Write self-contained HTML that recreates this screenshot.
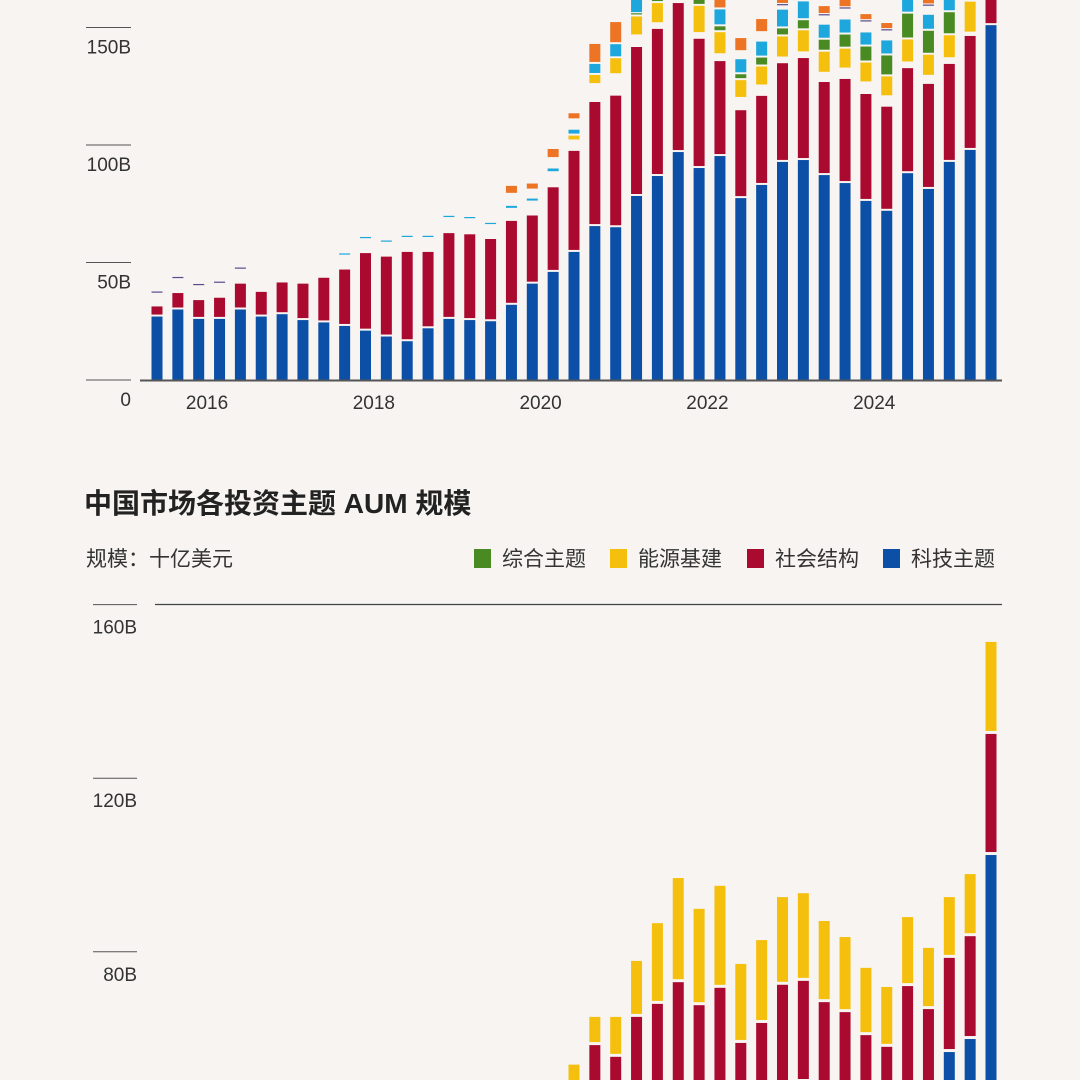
<!DOCTYPE html>
<html><head><meta charset="utf-8"><style>
html,body{margin:0;padding:0;background:#f7f4f1;width:1080px;height:1080px;overflow:hidden;}
svg{display:block;}
text{font-family:"Liberation Sans Narrow","Liberation Sans","Noto Sans CJK SC",sans-serif;fill:#333;}
.cjk{font-family:"Liberation Sans","Noto Sans CJK SC",sans-serif;}
</style></head><body>
<svg id="chart" width="1080" height="1080" viewBox="0 0 1080 1080" xmlns="http://www.w3.org/2000/svg">
<rect x="0" y="0" width="1080" height="1080" fill="#f7f4f1"/>
<g id="top"></g>
<g id="bottom"></g>
<text class="cjk" x="84" y="513" font-size="28" font-weight="bold" style="fill:#222">中国市场各投资主题 AUM 规模</text>
<text class="cjk" x="86" y="566" font-size="21">规模：十亿美元</text>
<g>
<g><rect x="474" y="549" width="17" height="19" fill="#4a8a22"/><text class="cjk" x="502" y="566" font-size="21">综合主题</text></g>
<g><rect x="610" y="549" width="17" height="19" fill="#f5bf0e"/><text class="cjk" x="638" y="566" font-size="21">能源基建</text></g>
<g><rect x="747" y="549" width="17" height="19" fill="#ab0a30"/><text class="cjk" x="775" y="566" font-size="21">社会结构</text></g>
<g><rect x="883" y="549" width="17" height="19" fill="#0c4fa6"/><text class="cjk" x="911" y="566" font-size="21">科技主题</text></g>
</g>
</svg>
<script>
// ---------- TOP CHART DATA (billions USD, quarterly) ----------
const topBlue   = [27,30,26,26,30,27,28,25.5,24.5,23,21,18.5,16.5,22,26,25.5,25,32,41,46,54.5,65.5,65,78.3,86.8,97,90.2,95.3,77.4,83,92.8,93.6,87.2,83.8,76.2,72,88,81.3,92.8,97.9,151];
const topRed    = [4.3,7,8,9,11,10.5,13.5,15.5,19,24,33,34,38,32.5,36.5,36.5,35,35.7,29,36,43,52.8,56,63.4,62.6,63.4,55,40.4,37.4,37.9,42,43.4,39.6,44.3,45.5,44.3,44.7,44.7,41.7,48.5,30];
const topGap1   = [5,5.5,5.5,5.5,5.5,0,0,0,0,5.5,5.5,5.5,5.5,5.5,6,6,5.5,4.7,5.5,6,4,7.2,8.7,4.5,2,2,2,2.5,4.8,4,2,2,3.5,4,4.5,4,2,3,2,1,0];
const topYellow = [0,0,0,0,0,0,0,0,0,0,0,0,0,0,0,0,0,0,0,0,2.5,4.3,7.2,8.5,9,8,12,9.8,8,8.5,9.4,9.8,9.4,8.9,8.9,8.9,10.2,9.4,10.2,13.6,5];
const topGreen  = [0,0,0,0,0,0,0,0,0,0,0,0,0,0,0,0,0,0,0,0,0,0,0,1,4,3,5,2.5,2.5,3.8,3.4,4.3,5.1,6,6.8,8.9,11,10.2,9.8,4,2];
const topCyan   = [0,0,0,0,0,0,0,0,0,1,1,1,1,0.8,1,1,1,1.7,1.7,2,2.5,4.7,6,8,5,5,5,7.2,6.4,6.8,8,8,6.4,6.4,6,6.4,6,6.8,6,5,3];
const topGap2   = [0,0,0,0,0,0,0,0,0,0,0,0,0,0,0,0,0,4.7,3.4,4,4,0,0,0,0,0,0,0,3,3.6,1,1,3.1,3.8,3.8,3.4,2,3,2,0,0];
const topPurple = [1,1,1,1,0.8,0,0,0,0,0,0,0,0,0,0,0,0,0,0,0,0,0,0,0,0,0,0,0,0,0,1,0,1,1,1,1,0,1,0,0,0];
const topOrange = [0,0,0,0,0,0,0,0,0,0,0,0,0,0,0,0,0,3.8,3,4.3,3,8.5,9.4,6,3,3,3,5,6,6,3,3,3.8,3.8,3,3,3,3,3,3,0];
const topTicks  = [0,50,100,150];
const topTickLabels = ["0","50B","100B","150B"];
const yearLabels = ["2016","2018","2020","2022","2024"];
const yearPos = [2.4,10.4,18.4,26.4,34.4];

// ---------- BOTTOM CHART DATA ----------
const botBlue   = [20,21,19,19,21,20,20,18,17,17,16,14,13,16,19,19,19,24,30,34,38,45,45,45,45,45,45,45,45,45,45,50,45,45,45,45,45,45,56.9,59.9,102.3];
const botRed    = [3,4,5,6,7,7,8,9,10,11,13,12,13,11,12,11,11,10,9,9,10,13.5,10.8,20,23,28,22.7,26.7,14,18.6,27.4,23.3,23.4,21.1,15.8,13.1,27.1,21.8,21.7,23.7,27.9];
const botYellow = [1,1,1,1,1,1,2,2,2,3,3,3,3,3,3,3,3,3,4,4,6,6.5,9.2,12.9,18.6,24,22.2,23.5,18.2,19.1,20.2,20.2,18.7,17.3,15.5,13.8,15.9,14.1,14,14.3,21.2];
const botGreen  = [0,0,0,0,0,0,0,0,0,0,0,0,0,0,0,0,0,0,0,0,0,0,0,0,0,0,0,0,0,0,0,0,0,0,0,0,0,0,0,0,0];
const botTicks  = [80,120,160];
const botTickLabels = ["80B","120B","160B"];

const NS = "http://www.w3.org/2000/svg";
const X0 = 157, STEP = 20.85, BW = 11;
function xPos(i){ return X0 + i*STEP; }
function yTop(v){ return 380 - v*2.35; }
function yBot(v){ return 1299 - v*4.34; }

function mk(tag, attrs, parent){
  const e = document.createElementNS(NS, tag);
  for (const k in attrs) e.setAttribute(k, attrs[k]);
  parent.appendChild(e);
  return e;
}

// ---- top chart ----
const gTop = document.getElementById('top');
const clipDefs = mk('defs', {}, gTop);
const cp = mk('clipPath', {id:'clipTop'}, clipDefs);
mk('rect', {x:0,y:0,width:1080,height:381}, cp);
const topBars = mk('g', {'clip-path':'url(#clipTop)'}, gTop);


const topSeries = [
  ['tech', topBlue, '#0c4fa6'],
  ['social', topRed, '#ab0a30'],
  ['gap1', topGap1, null],
  ['energy', topYellow, '#f5bf0e'],
  ['general', topGreen, '#4a8a22'],
  ['cyan', topCyan, '#1ea7dc'],
  ['gap2', topGap2, null],
  ['purple', topPurple, '#5b4a8c'],
  ['orange', topOrange, '#ec7424']
];
for (let i = 0; i < topBlue.length; i++){
  let cum = 0;
  for (const s of topSeries){
    const v = s[1][i];
    if (v > 0 && s[2]){
      const y1 = yTop(cum), y2 = yTop(cum + v);
      const h = Math.max(1.2, (y1 - y2) - (cum > 0 ? 2 : 0));
      const r = mk('rect', {x:xPos(i)-BW/2, y:y1-(cum>0?2:0)-h, width:BW, height:h, fill:s[2]}, topBars);
      
      
    }
    cum += v;
  }
}
for (let k = 0; k < topTicks.length; k++){
  const y = yTop(topTicks[k]);
  const ln = mk('line', {x1:86, x2:131, y1:y, y2:y, stroke:'#555', 'stroke-width':1}, gTop);
  
  
  const t = mk('text', {x:131, y:y+26, 'text-anchor':'end', 'font-size':19}, gTop);
  t.textContent = topTickLabels[k];
  
  
}
const base = mk('line', {x1:140, x2:1002, y1:380.5, y2:380.5, stroke:'#555', 'stroke-width':2}, gTop);


for (let k = 0; k < yearLabels.length; k++){
  const t = mk('text', {x:xPos(yearPos[k]), y:409, 'text-anchor':'middle', 'font-size':19}, gTop);
  t.textContent = yearLabels[k];
  
  
}

// ---- bottom chart ----
const gBot = document.getElementById('bottom');
const grid = mk('line', {x1:155, x2:1002, y1:604.5, y2:604.5, stroke:'#444', 'stroke-width':1.2}, gBot);


for (let k = 0; k < botTicks.length; k++){
  const y = yBot(botTicks[k]);
  const ln = mk('line', {x1:93, x2:137, y1:y, y2:y, stroke:'#555', 'stroke-width':1}, gBot);
  
  
  const t = mk('text', {x:137, y:y+29, 'text-anchor':'end', 'font-size':19}, gBot);
  t.textContent = botTickLabels[k];
  
  
}
const botSeries = [
  ['tech', botBlue, '#0c4fa6'],
  ['social', botRed, '#ab0a30'],
  ['energy', botYellow, '#f5bf0e'],
  ['general', botGreen, '#4a8a22']
];
const botClipDefs = mk('defs', {}, gBot);
const cp2 = mk('clipPath', {id:'clipBot'}, botClipDefs);
mk('rect', {x:0,y:0,width:1080,height:1080}, cp2);
const botBars = mk('g', {'clip-path':'url(#clipBot)'}, gBot);


for (let i = 0; i < botBlue.length; i++){
  let cum = 0;
  for (const s of botSeries){
    const v = s[1][i];
    if (v > 0){
      const y1 = yBot(cum), y2 = yBot(cum + v);
      const h = Math.max(1.2, (y1 - y2) - (cum > 0 ? 3 : 0));
      const r = mk('rect', {x:xPos(i)-BW/2, y:y1-(cum>0?3:0)-h, width:BW, height:h, fill:s[2]}, botBars);
      
      
    }
    cum += v;
  }
}
</script>
</body></html>
